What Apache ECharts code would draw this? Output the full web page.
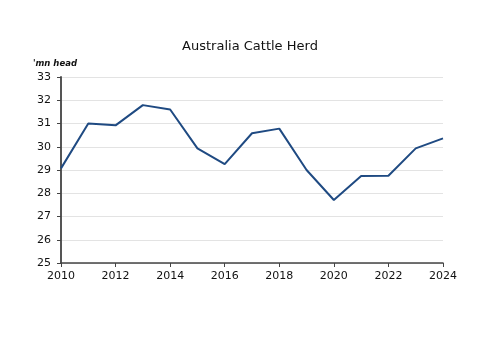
<!DOCTYPE html>
<html>
<head>
<meta charset="utf-8">
<script src="https://cdn.jsdelivr.net/npm/echarts@6/dist/echarts.min.js"></script>
<style>
  html, body { margin: 0; padding: 0; background: #fff; }
  #main { width: 500px; height: 353px; }
</style>
</head>
<body>
<div id="main"></div>
<script>
var years = [2010, 2011, 2012, 2013, 2014, 2015, 2016, 2017, 2018, 2019, 2020, 2021, 2022, 2023, 2024];
var herd = [29.07, 31.0, 30.92, 31.79, 31.6, 29.93, 29.25, 30.58, 30.78, 29.0, 27.71, 28.74, 28.75, 29.93, 30.36];

var points = years.map(function (y, i) { return [y, herd[i]]; });

var chart = echarts.init(document.getElementById('main'));
var font = 'DejaVu Sans';

chart.setOption({
    animation: false,
    title: {
        text: 'Australia Cattle Herd',
        left: 'center',
        top: 35,
        textStyle: { fontFamily: font, fontSize: 13, fontWeight: 'normal', color: '#111' }
    },
    grid: { left: 61, right: 57, top: 77, bottom: 90 },
    xAxis: {
        type: 'value',
        min: 2010,
        max: 2024,
        interval: 2,
        axisLine: { lineStyle: { color: '#444', width: 1.5 } },
        axisTick: { show: true, length: 4, lineStyle: { color: '#444' } },
        axisLabel: {
            fontFamily: font, fontSize: 11, color: '#111', margin: 8,
            formatter: function (v) { return String(v); }
        },
        splitLine: { show: false }
    },
    yAxis: {
        type: 'value',
        min: 25,
        max: 33,
        interval: 1,
        name: "'mn head",
        nameLocation: 'end',
        nameGap: 9,
        nameTextStyle: { fontFamily: font, fontSize: 8.5, fontStyle: 'italic', fontWeight: 'bold', color: '#111', align: 'right', padding: [0, -16, 0, 0] },
        axisLine: { show: true, lineStyle: { color: '#555', width: 2 } },
        axisTick: { show: true, length: 4, lineStyle: { color: '#444' } },
        axisLabel: { fontFamily: font, fontSize: 11, color: '#111', margin: 10 },
        splitLine: { show: true, lineStyle: { color: '#e3e3e3', width: 1 } }
    },
    series: [{
        type: 'line',
        data: points,
        symbol: 'none',
        lineStyle: { color: '#1f4a82', width: 2 }
    }]
});
</script>
</body>
</html>
